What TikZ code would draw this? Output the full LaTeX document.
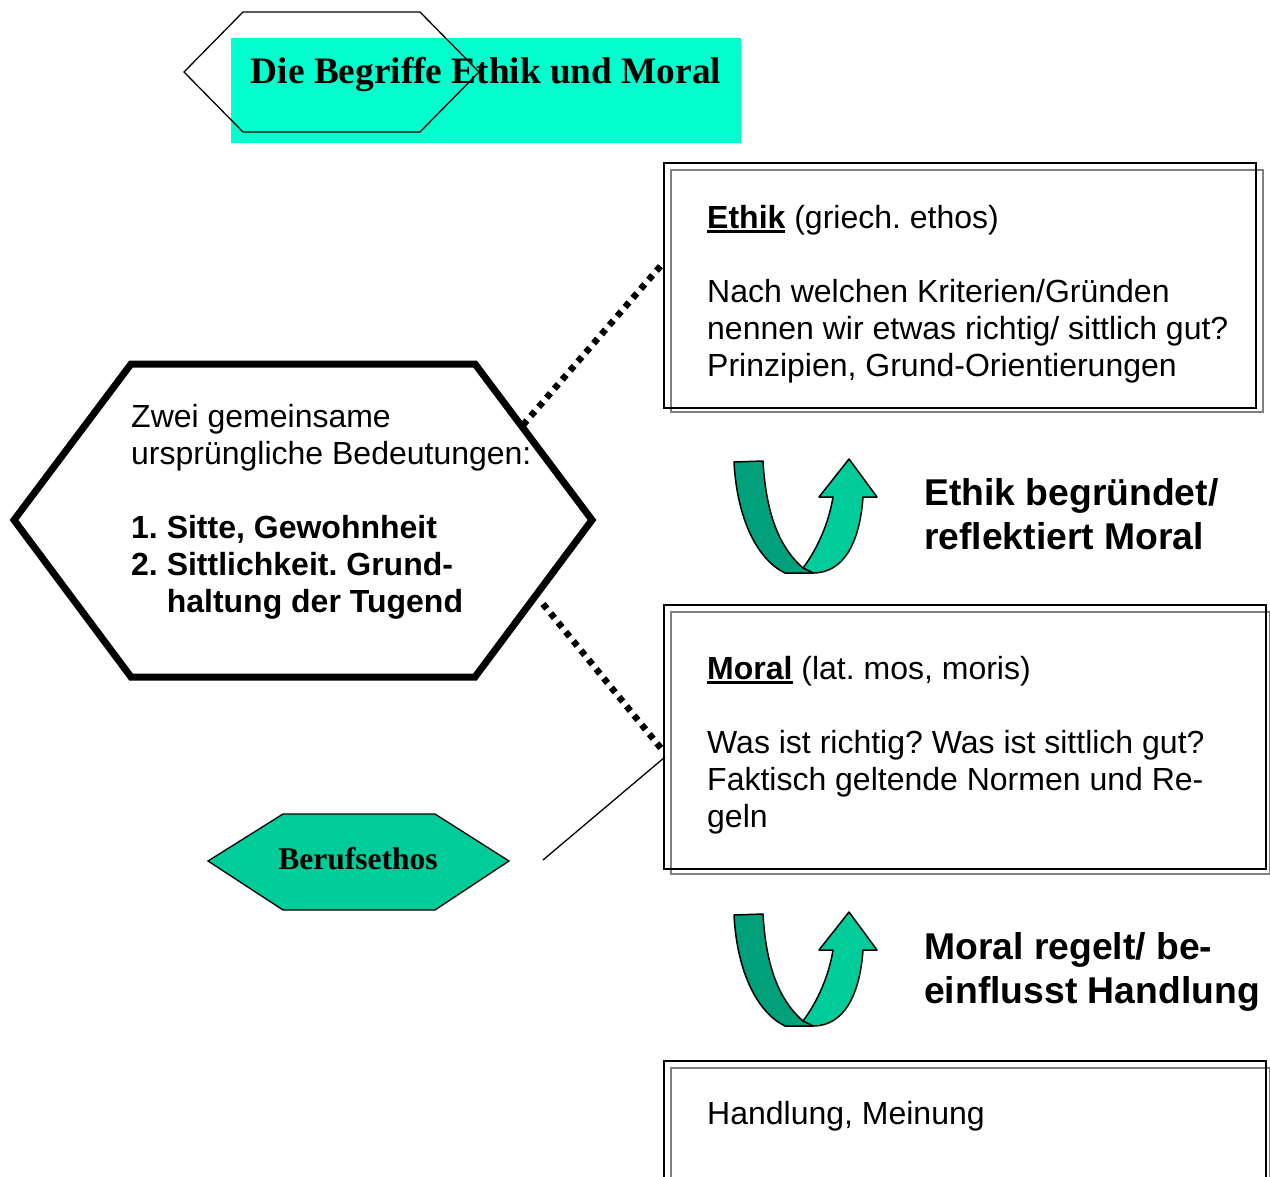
\documentclass[tikz,border=0pt]{standalone}
\usepackage{fontspec}
\setmainfont{Liberation Sans}
\newfontfamily\timesfont{Liberation Serif}
\newsavebox{\ulbox}
\newcommand{\ulword}[1]{\sbox{\ulbox}{#1}\rlap{\rule[-4.5pt]{\wd\ulbox}{2.8pt}}\usebox{\ulbox}}
\definecolor{titlecyan}{RGB}{0,255,204}
\definecolor{lightgreen}{RGB}{0,204,153}
\definecolor{darkgreen}{RGB}{0,160,122}
\definecolor{shadowgray}{RGB}{128,128,128}
\tikzset{
  x=1pt, y=-1pt,
  boxfront/.style={draw=black, line width=2pt, minimum width=592pt, anchor=north west, inner sep=0pt},
  boxback/.style={draw=shadowgray, line width=2pt, anchor=north west, inner sep=0pt},
  bodytext/.style={anchor=north west, inner sep=0pt, align=left, font=\fontsize{32}{37}\selectfont\frenchspacing},
  headtext/.style={anchor=north west, inner sep=0pt, align=left, font=\fontsize{37.3}{44}\selectfont\bfseries},
  dotline/.style={line width=6.5pt, dash pattern=on 6pt off 6pt},
  bandline/.style={draw=black, line width=1.5pt, line join=round},
}
\begin{document}
\begin{tikzpicture}
\useasboundingbox (0,0) rectangle (1270,1177);
% title
\fill[titlecyan] (231,38) rectangle (741,143);
\draw[line width=1.3pt] (184,72) -- (243,12) -- (420,12) -- (479,72) -- (420,132) -- (243,132) -- cycle;
\node[inner sep=0pt, anchor=base, font=\timesfont\fontsize{37.3}{40}\selectfont\bfseries] (title) at (486,84) {Die Begriffe Ethik und Moral};

% Ethik box
\draw[boxback] (671,170) rectangle (1263,412);
\node[boxfront, minimum width=592pt, minimum height=245pt] (ethik) at (663,162) {};
\node[bodytext] (ethiktext) at (707,205) {\textbf{\ulword{Ethik}} (griech. ethos)\\[37pt]Nach welchen Kriterien/Gründen\\nennen wir etwas richtig/ sittlich gut?\\Prinzipien, Grund-Orientierungen};

% Moral box
\draw[boxback] (671,612) rectangle (1270,874);
\node[boxfront, minimum width=602pt, minimum height=264pt] (moral) at (663,604) {};
\node[bodytext] (moraltext) at (707,656) {\textbf{\ulword{Moral}} (lat. mos, moris)\\[37pt]Was ist richtig? Was ist sittlich gut?\\Faktisch geltende Normen und Re-\\geln};

% Handlung box
\draw[boxback] (671,1068) rectangle (1270,1200);
\node[boxfront, minimum width=602pt, minimum height=140pt] (handlung) at (663,1060) {};
\node[bodytext] (handlungtext) at (707,1101) {Handlung, Meinung};

% big hexagon
\draw[line width=7pt, line join=miter] (14,520) coordinate (hexL) -- (131,364) -- (475,364) -- (592,520) coordinate (hexR) -- (475,677) -- (131,677) -- cycle;
\node[bodytext] (hextext) at (131,404) {Zwei gemeinsame\\ursprüngliche Bedeutungen:\\[37pt]\textbf{1. Sitte, Gewohnheit}\\\textbf{2. Sittlichkeit. Grund-}\\\textbf{\phantom{2. }haltung der Tugend}};

% dotted connectors
\coordinate (d1a) at (523,425);
\coordinate (d1b) at ([yshift=100pt]ethik.west);
\draw[dotline] (d1a) -- (664,262);
\coordinate (d2a) at (543,604);
\coordinate (d2b) at (664,752);
\draw[dotline] (d2a) -- (d2b);

% Berufsethos
\draw[fill=lightgreen, line width=1.3pt] (208,861) -- (283,814) -- (435,814) -- (509,861) -- (435,910) -- (283,910) -- cycle;
\node[inner sep=0pt, anchor=base, font=\timesfont\fontsize{31.5}{34}\selectfont\bfseries] (beruf) at (358,869) {Berufsethos};
\coordinate (lineA) at (543,860);
\coordinate (lineB) at (665,757);
\draw[line width=1.3pt] (lineA) -- (lineB);

% U-turn arrows
\foreach \dy/\nm in {0/a1,453/a2}{
\begin{scope}[shift={(0,\dy)}]
\draw[bandline, fill=lightgreen] (803,568) .. controls (818,548) and (829,522) .. (833,497) -- (819,497) -- (849,459) -- (877,497) -- (863,497) .. controls (860,540) and (845,573) .. (813,573) -- cycle;
\draw[bandline, fill=darkgreen] (734,462) -- (763,461) .. controls (766,515) and (780,548) .. (803,568) -- (813,573) -- (785,573) .. controls (758,560) and (737,520) .. cycle;
\end{scope}
}

% headings
\node[headtext] (h1) at (924,478) {Ethik begründet/\\reflektiert Moral};
\node[headtext] (h2) at (924,932) {Moral regelt/ be-\\einflusst Handlung};
\end{tikzpicture}
\end{document}
